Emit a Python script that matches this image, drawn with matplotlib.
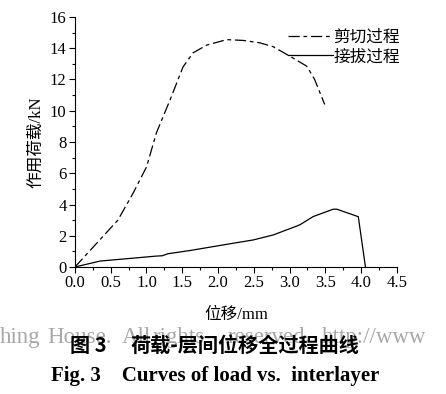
import matplotlib
matplotlib.use('Agg')
import matplotlib.pyplot as plt
from matplotlib.ticker import MultipleLocator

plt.rcParams['font.family'] = ['Liberation Serif', 'Noto Sans CJK SC']

#%% datos
x_shear = [0.0, 0.3, 0.6, 0.81, 1.0, 1.14, 1.33, 1.51, 1.65, 1.84, 2.12, 2.35, 2.58, 2.77, 3.0, 3.24, 3.35, 3.49]
y_shear = [0.0, 1.5, 3.0, 4.7, 6.4, 8.6, 10.7, 12.8, 13.7, 14.2, 14.55, 14.5, 14.35, 14.1, 13.5, 12.85, 12.0, 10.4]

x_pull = [0.0, 0.35, 0.77, 1.14, 1.22, 1.3, 1.6, 2.21, 2.49, 2.77, 3.1, 3.15, 3.33, 3.61, 3.66, 3.96, 4.06]
y_pull = [0.0, 0.38, 0.55, 0.7, 0.72, 0.85, 1.05, 1.52, 1.73, 2.05, 2.62, 2.72, 3.23, 3.70, 3.70, 3.22, 0.0]

labels = ['剪切过程', '接拔过程']

# marca de agua: palabras y su borde izquierdo en pixeles
wm_words = ['hing', 'House.', 'All', 'rights', 'reserved.', 'http://www']
wm_left = [0, 47, 122, 153, 228, 322]

#%% figura
fig = plt.figure(figsize=(4.46, 3.94), dpi=100)
ax = fig.add_axes([0.168, 0.3223, 0.722, 0.6346])

ax.plot(x_shear, y_shear, color='black', lw=0.9, dashes=(9, 3, 3, 3), label=labels[0])
ax.plot(x_pull, y_pull, color='black', lw=0.9, label=labels[1])

ax.set_xlim(0, 4.5)
ax.set_ylim(0, 16)
ax.xaxis.set_major_locator(MultipleLocator(0.5))
ax.xaxis.set_minor_locator(MultipleLocator(0.25))
ax.yaxis.set_major_locator(MultipleLocator(2))
ax.yaxis.set_minor_locator(MultipleLocator(1))
ax.set_xticklabels([f'{v:.1f}' for v in ax.get_xticks()])
ax.tick_params(which='major', direction='out', length=4, width=0.8, labelsize=12, pad=2)
ax.tick_params(which='minor', direction='out', length=2.5, width=0.8)
ax.spines['top'].set_visible(False)
ax.spines['right'].set_visible(False)

ax.set_xlabel('位移/mm', fontsize=12, labelpad=11)
ax.set_ylabel('作用荷载/kN', fontsize=12, labelpad=4)

leg = ax.legend(loc='upper right', bbox_to_anchor=(1.03, 0.975), frameon=False,
                fontsize=12, handlelength=2.7, handletextpad=0.0, labelspacing=0.2,
                borderaxespad=0)

#%% textos de la figura (marca de agua y pie)
for w, xl in zip(wm_words, wm_left):
    fig.text(xl, 394 - 343, w, transform=None, fontsize=16.5, color='#a8a8a8',
             va='baseline', ha='left')
fig.text(70 / 446, 1 - 345 / 394, '图 3', fontsize=14.5, fontweight='bold',
         family=['Noto Sans CJK SC'], ha='left', va='center')
fig.text(245 / 446, 1 - 345 / 394, '荷载-层间位移全过程曲线',
         fontsize=14.5, fontweight='bold', family=['Noto Sans CJK SC'],
         ha='center', va='center')
fig.text(215 / 446, 1 - 376 / 394, 'Fig. 3    Curves of load vs.  interlayer',
         fontsize=15, fontweight='bold', ha='center', va='center')

fig.savefig('out.png', dpi=100)
